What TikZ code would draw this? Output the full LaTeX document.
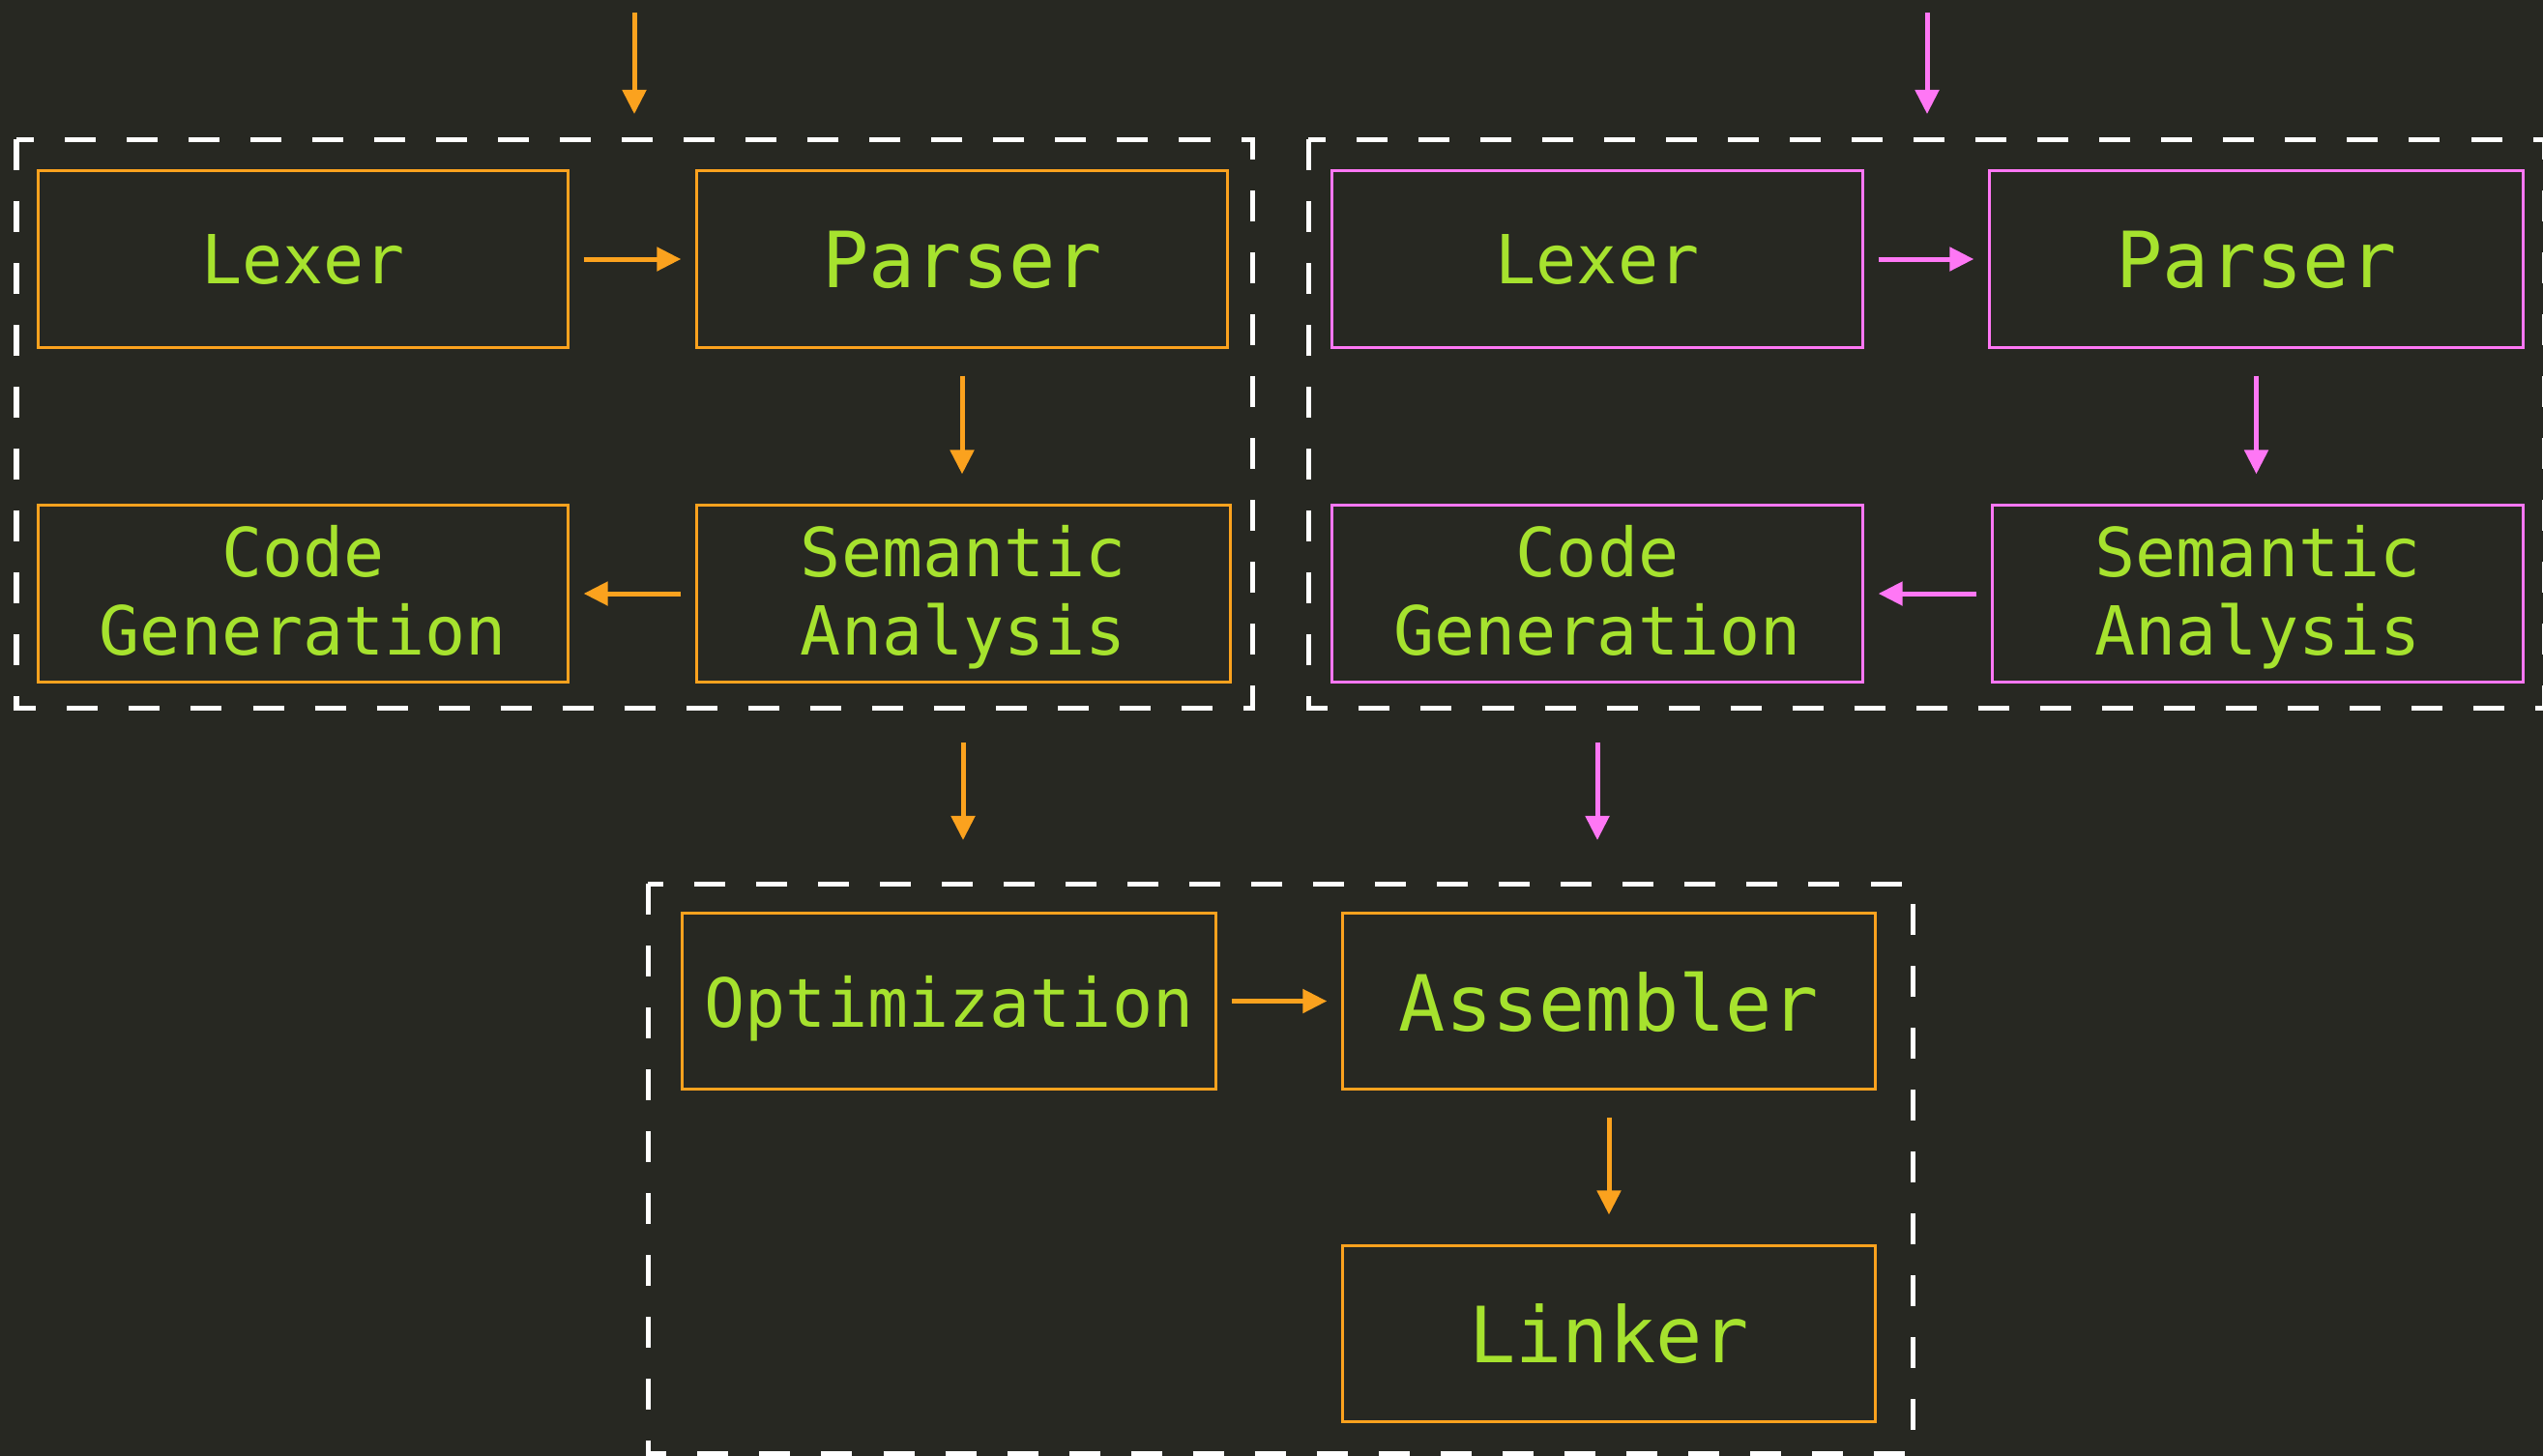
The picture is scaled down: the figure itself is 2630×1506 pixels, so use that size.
\documentclass[tikz,border=0pt]{standalone}
\usepackage{fontspec}
\newfontfamily\monofont{DejaVu Sans Mono}
\usetikzlibrary{arrows.meta}
\definecolor{bgc}{HTML}{272822}
\definecolor{corange}{HTML}{FBA21E}
\definecolor{cpink}{HTML}{FF77F5}
\definecolor{cgreen}{HTML}{A6E22E}
\newcommand{\topstrut}{\rule{0pt}{0.625cm}}
\newcommand{\botstrut}{\rule[-0.165cm]{0pt}{0pt}}
\tikzset{
  stagebox/.style={draw, line width=0.03cm, fill=bgc, text=cgreen, align=center,
    inner sep=0pt, font=\monofont\fontsize{19.9pt}{22.8pt}\selectfont},
  oneline/.style={text depth=0pt},
  bigtext/.style={font=\monofont\fontsize{22.8pt}{26pt}\selectfont},
  clusterbox/.style={draw=white, line width=0.05cm, dash pattern=on 0.32cm off 0.32cm},
  arr/.style={line width=0.05cm, -{Triangle[length=0.25cm,width=0.24cm]}},
  hgap/.style={shorten <=0.15cm, shorten >=0.15cm},
  vgap/.style={shorten <=0.28cm, shorten >=0.31cm},
}
\begin{document}
\begin{tikzpicture}[x=0.01cm, y=-0.01cm]
\useasboundingbox (0,0) rectangle (2630,1506);
\fill[bgc] (0,0) rectangle (2630,1506);

% clusters
\draw[clusterbox] (17,144) rectangle (1295,732);
\draw[clusterbox] (1353,144) rectangle (2631,732);
\draw[clusterbox] (670,914) rectangle (1978,1503);

% left cluster (orange)
\node[stagebox, oneline, draw=corange, minimum width=5.47cm, minimum height=1.82cm] (lLex) at (313.5,268) {Lexer};
\node[stagebox, oneline, bigtext, draw=corange, minimum width=5.48cm, minimum height=1.82cm] (lPar) at (995,268) {Parser};
\node[stagebox, draw=corange, minimum width=5.47cm, minimum height=1.82cm] (lCode) at (313.5,614) {\topstrut Code\\Generation\botstrut};
\node[stagebox, draw=corange, minimum width=5.51cm, minimum height=1.82cm] (lSem) at (996.5,614) {\topstrut Semantic\\Analysis\botstrut};

% right cluster (pink)
\node[stagebox, oneline, draw=cpink, minimum width=5.48cm, minimum height=1.82cm] (rLex) at (1652,268) {Lexer};
\node[stagebox, oneline, bigtext, draw=cpink, minimum width=5.51cm, minimum height=1.82cm] (rPar) at (2333.5,268) {Parser};
\node[stagebox, draw=cpink, minimum width=5.48cm, minimum height=1.82cm] (rCode) at (1652,614) {\topstrut Code\\Generation\botstrut};
\node[stagebox, draw=cpink, minimum width=5.48cm, minimum height=1.82cm] (rSem) at (2335,614) {\topstrut Semantic\\Analysis\botstrut};

% bottom cluster
\node[stagebox, oneline, draw=corange, minimum width=5.51cm, minimum height=1.81cm] (opt) at (981.5,1035.5) {Optimization};
\node[stagebox, oneline, bigtext, draw=corange, minimum width=5.50cm, minimum height=1.81cm] (asm) at (1664,1035.5) {Assembler};
\node[stagebox, oneline, bigtext, draw=corange, minimum width=5.50cm, minimum height=1.81cm] (lnk) at (1664,1379.5) {Linker};

% free ends
\coordinate (inLs) at (656,13);
\coordinate (inLe) at (656,118);
\coordinate (inRs) at (1993,13);
\coordinate (inRe) at (1993,118);
\coordinate (midLs) at (996,768);
\coordinate (midLe) at (996,869);
\coordinate (midRs) at (1652,768);
\coordinate (midRe) at (1652,869);

% connectors
\draw[arr, corange] (inLs) -- (inLe);
\draw[arr, cpink] (inRs) -- (inRe);

\draw[arr, corange, hgap] (lLex) -- (lPar);
\draw[arr, corange, vgap] (lPar.south) -- (lPar.south |- lSem.north);
\draw[arr, corange, hgap] (lSem) -- (lCode);

\draw[arr, cpink, hgap] (rLex) -- (rPar);
\draw[arr, cpink, vgap] (rPar.south) -- (rPar.south |- rSem.north);
\draw[arr, cpink, hgap] (rSem) -- (rCode);

\draw[arr, corange] (midLs) -- (midLe);
\draw[arr, cpink] (midRs) -- (midRe);

\draw[arr, corange, hgap] (opt) -- (asm);
\draw[arr, corange, vgap] (asm.south) -- (asm.south |- lnk.north);
\end{tikzpicture}
\end{document}
